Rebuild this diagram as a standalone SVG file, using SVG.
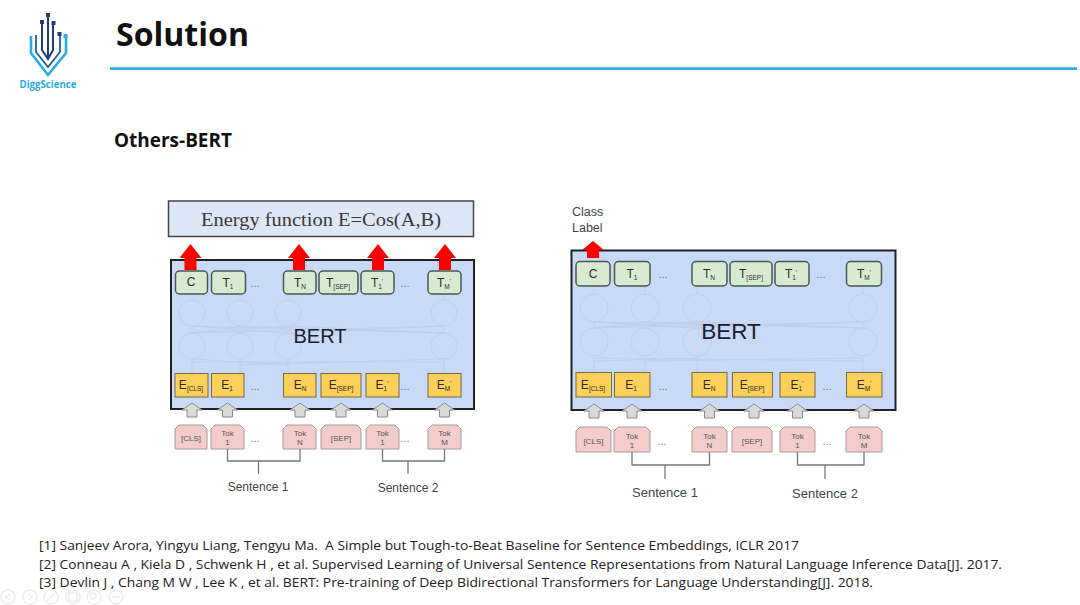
<svg xmlns="http://www.w3.org/2000/svg" width="1080" height="605" viewBox="0 0 1080 605">
<style>
text{font-family:"Liberation Sans",Arial,sans-serif;fill:#2b2b2b}
.h{font-family:"Open Sans","Noto Sans",sans-serif;font-weight:700;fill:#111}
.r{font-family:"Open Sans","Noto Sans",sans-serif;font-size:13px;fill:#222;white-space:pre}
.t{fill:#d9ead3;stroke:#4a5a50;stroke-width:1.5}
.e{fill:#fdd05a;stroke:#6f6a4a;stroke-width:1}
.k{fill:#f4cccc;stroke:#a89a9a;stroke-width:1}
.b{fill:#c9daf8;stroke:#222;stroke-width:2}
.n{fill:none;stroke:#c0cfe9;stroke-width:1}
.w{fill:none;stroke:#777;stroke-width:1.3}
.ga{fill:#d9d9d9;stroke:#8a8a8a;stroke-width:1}
.ra{fill:#f00}
.l{font-size:12px;text-anchor:middle}
.s{font-size:6.500px}
.tk{font-size:8px;text-anchor:middle;fill:#555}
.d{font-size:11px;fill:#777;text-anchor:middle}
.sn{font-size:12px;text-anchor:middle;fill:#444}
.sr{font-size:13px;text-anchor:middle;fill:#444}
.ui{fill:none;stroke:#ececec;stroke-width:1.4}
</style>
<defs>
<path id="ra" class="ra" d="M0 0L11 14H6V26H-6V14H-11Z"/>
<path id="ga" class="ga" d="M0 0L10 7H5V14H-5V7H-10Z"/>
</defs>

<g id="logo">
<path d="M31 36V53L48 75L66 53V36" fill="none" stroke="#29abe2" stroke-width="2.600"/>
<path d="M36 35V52L48 67L60 52V34" fill="none" stroke="#1f5f9a" stroke-width="1.800"/>
<path d="M42 22V50L48 59L53 50V23M48 14V59" fill="none" stroke="#1f3f7a" stroke-width="2"/>
<rect x="46" y="13" width="4" height="4" fill="#1f3f7a"/><rect x="51.500" y="21" width="4" height="4" fill="#1f3f7a"/><rect x="57.500" y="32" width="4" height="4" fill="#1f3f7a"/><rect x="63.500" y="34" width="4" height="4" fill="#29abe2"/><rect x="40" y="20" width="4" height="4" fill="#1f3f7a"/>
<text x="48" y="88" font-size="10.500" font-weight="700" text-anchor="middle" textLength="57" lengthAdjust="spacingAndGlyphs" style="fill:#29abe2;font-family:'Open Sans',sans-serif">DiggScience</text>
</g>

<g id="title">
<text class="h" x="116" y="46" font-size="33" textLength="133" lengthAdjust="spacingAndGlyphs">Solution</text>
<rect x="110" y="67.300" width="967" height="2.600" fill="#29abe2"/>
<text class="h" x="114" y="147" font-size="19" textLength="118" lengthAdjust="spacingAndGlyphs">Others-BERT</text>
</g>

<g id="energy-box"><rect x="168.500" y="201" width="305" height="35.500" fill="#dde7f5" stroke="#444" stroke-width="1.500"/>
<text x="321" y="226" font-size="19" text-anchor="middle" style="font-family:'Liberation Serif',serif;fill:#3a3a3a" textLength="240" lengthAdjust="spacingAndGlyphs">Energy function E=Cos(A,B)</text></g>

<g id="left-bert"><rect class="b" x="171" y="260" width="303" height="149"/></g>

<g id="left-network">
<circle class="n" cx="192" cy="313" r="13"/><circle class="n" cx="240" cy="313" r="13"/><circle class="n" cx="288" cy="313" r="13"/><circle class="n" cx="444" cy="313" r="13"/>
<circle class="n" cx="192" cy="346" r="13"/><circle class="n" cx="240" cy="346" r="13"/><circle class="n" cx="288" cy="346" r="13"/><circle class="n" cx="444" cy="346" r="13"/>
<path class="n" d="M192 294V300M240 294V300M288 294V300M444 294V300M192 326V333M240 326V333M288 326V333M444 326V333M192 359V373M240 359V373M288 359V373M444 359V373M192 326L288 333M192 326L444 333M240 326L192 333M240 326L444 333M288 326L192 333M288 326L444 333M444 326L192 333M444 326L288 333M192 359L288 365M192 362H444M444 359L240 365"/>
</g>
<text id="left-bert-label" x="320" y="343" font-size="20" text-anchor="middle" style="fill:#17202e">BERT</text>

<g id="left-outputs">
<g id="l-t-c"><rect class="t" x="175.500" y="271" width="32" height="23" rx="4"/><text class="l" x="191" y="286">C</text></g>
<g id="l-t-1"><rect class="t" x="211.500" y="271" width="34" height="23" rx="4"/><text class="l" x="228" y="287">T<tspan class="s" dy="2">1</tspan></text></g>
<text class="d" x="255" y="287">...</text>
<g id="l-t-n"><rect class="t" x="283.500" y="271" width="32.500" height="23" rx="4"/><text class="l" x="300" y="287">T<tspan class="s" dy="2">N</tspan></text></g>
<g id="l-t-sep"><rect class="t" x="319" y="271" width="39" height="23" rx="4"/><text class="l" x="338" y="287">T<tspan class="s" dy="2">[SEP]</tspan></text></g>
<g id="l-t-1p"><rect class="t" x="361" y="271" width="33" height="23" rx="4"/><text class="l" x="377" y="287">T<tspan class="s" dy="2">1</tspan><tspan dy="-5" class="s">'</tspan></text></g>
<text class="d" x="405" y="287">...</text>
<g id="l-t-m"><rect class="t" x="428" y="271" width="33" height="23" rx="4"/><text class="l" x="444" y="287">T<tspan class="s" dy="2">M</tspan><tspan dy="-5" class="s">'</tspan></text></g>
</g>

<g id="left-embeddings">
<g id="l-e-cls"><rect class="e" x="175" y="373.500" width="33" height="23.500"/><text class="l" x="191" y="389">E<tspan class="s" dy="2">[CLS]</tspan></text></g>
<g id="l-e-1"><rect class="e" x="211.500" y="373.500" width="32.500" height="23.500"/><text class="l" x="227" y="389">E<tspan class="s" dy="2">1</tspan></text></g>
<text class="d" x="255" y="390">...</text>
<g id="l-e-n"><rect class="e" x="283.500" y="373.500" width="32.500" height="23.500"/><text class="l" x="300" y="389">E<tspan class="s" dy="2">N</tspan></text></g>
<g id="l-e-sep"><rect class="e" x="321" y="373.500" width="40" height="23.500"/><text class="l" x="341" y="389">E<tspan class="s" dy="2">[SEP]</tspan></text></g>
<g id="l-e-1p"><rect class="e" x="366" y="373.500" width="33" height="23.500"/><text class="l" x="382" y="389">E<tspan class="s" dy="2">1</tspan><tspan dy="-5" class="s">'</tspan></text></g>
<text class="d" x="405" y="390">...</text>
<g id="l-e-m"><rect class="e" x="428" y="373.500" width="33" height="23.500"/><text class="l" x="444" y="389">E<tspan class="s" dy="2">M</tspan><tspan dy="-5" class="s">'</tspan></text></g>
</g>

<g id="left-tokens">
<g id="l-k-cls"><path class="k" d="M175 449V429L179 425H203L207 429V449Z"/><text class="tk" x="191" y="441">[CLS]</text></g>
<g id="l-k-1"><path class="k" d="M211 449V429L215 425H240L244 429V449Z"/><text class="tk" x="227.500" y="436">Tok</text><text class="tk" x="227.500" y="445">1</text></g>
<text class="d" x="255" y="442">...</text>
<g id="l-k-n"><path class="k" d="M283 449V429L287 425H312L316 429V449Z"/><text class="tk" x="300" y="436">Tok</text><text class="tk" x="300" y="445">N</text></g>
<g id="l-k-sep"><path class="k" d="M321 449V429L325 425H357L361 429V449Z"/><text class="tk" x="341" y="441">[SEP]</text></g>
<g id="l-k-1p"><path class="k" d="M366 449V429L370 425H395L399 429V449Z"/><text class="tk" x="382.500" y="436">Tok</text><text class="tk" x="382.500" y="445">1</text></g>
<text class="d" x="405" y="442">...</text>
<g id="l-k-m"><path class="k" d="M428 449V429L432 425H457L461 429V449Z"/><text class="tk" x="444.500" y="436">Tok</text><text class="tk" x="444.500" y="445">M</text></g>
</g>
<text class="sn" x="258" y="491">Sentence 1</text><text class="sn" x="408" y="492">Sentence 2</text>

<g id="right-bert"><rect class="b" x="571.500" y="250.500" width="324" height="159.500"/></g>

<g id="right-network">
<circle class="n" cx="594" cy="308" r="14"/><circle class="n" cx="645" cy="308" r="14"/><circle class="n" cx="697" cy="308" r="14"/><circle class="n" cx="863" cy="308" r="14"/>
<circle class="n" cx="594" cy="342" r="14"/><circle class="n" cx="645" cy="342" r="14"/><circle class="n" cx="697" cy="342" r="14"/><circle class="n" cx="863" cy="342" r="14"/>
<path class="n" d="M594 286V294M645 286V294M697 286V294M863 286V294M594 322V328M645 322V328M697 322V328M863 322V328M594 356V372M645 356V372M697 356V372M863 356V372M594 322L697 328M594 322L863 328M645 322L594 328M645 322L863 328M697 322L594 328M697 322L863 328M863 322L594 328M863 322L697 328M594 358L863 361M697 358L594 361M863 358L645 361"/>
</g>
<text id="right-bert-label" x="731" y="339" font-size="22.500" text-anchor="middle" style="fill:#17202e">BERT</text>

<g id="right-outputs">
<g id="r-t-c"><rect class="t" x="576" y="261.500" width="34" height="24.500" rx="4"/><text class="l" x="593" y="278">C</text></g>
<g id="r-t-1"><rect class="t" x="614.500" y="261.500" width="35.500" height="24.500" rx="4"/><text class="l" x="632" y="278">T<tspan class="s" dy="2">1</tspan></text></g>
<text class="d" x="663" y="278">...</text>
<g id="r-t-n"><rect class="t" x="692" y="261.500" width="35" height="24.500" rx="4"/><text class="l" x="709" y="278">T<tspan class="s" dy="2">N</tspan></text></g>
<g id="r-t-sep"><rect class="t" x="730" y="261.500" width="42" height="24.500" rx="4"/><text class="l" x="751" y="278">T<tspan class="s" dy="2">[SEP]</tspan></text></g>
<g id="r-t-1p"><rect class="t" x="775" y="261.500" width="34" height="24.500" rx="4"/><text class="l" x="791" y="278">T<tspan class="s" dy="2">1</tspan><tspan dy="-5" class="s">'</tspan></text></g>
<text class="d" x="821" y="278">...</text>
<g id="r-t-m"><rect class="t" x="846.500" y="261.500" width="35" height="24.500" rx="4"/><text class="l" x="864" y="278">T<tspan class="s" dy="2">M</tspan><tspan dy="-5" class="s">'</tspan></text></g>
</g>

<g id="right-embeddings">
<g id="r-e-cls"><rect class="e" x="576" y="372.500" width="35.500" height="24.500"/><text class="l" x="593" y="389">E<tspan class="s" dy="2">[CLS]</tspan></text></g>
<g id="r-e-1"><rect class="e" x="614.500" y="372.500" width="35.500" height="24.500"/><text class="l" x="631" y="389">E<tspan class="s" dy="2">1</tspan></text></g>
<text class="d" x="663" y="390">...</text>
<g id="r-e-n"><rect class="e" x="692" y="372.500" width="35" height="24.500"/><text class="l" x="709" y="389">E<tspan class="s" dy="2">N</tspan></text></g>
<g id="r-e-sep"><rect class="e" x="732.500" y="372.500" width="40" height="24.500"/><text class="l" x="752" y="389">E<tspan class="s" dy="2">[SEP]</tspan></text></g>
<g id="r-e-1p"><rect class="e" x="780" y="372.500" width="35" height="24.500"/><text class="l" x="797" y="389">E<tspan class="s" dy="2">1</tspan><tspan dy="-5" class="s">'</tspan></text></g>
<text class="d" x="827" y="390">...</text>
<g id="r-e-m"><rect class="e" x="846.500" y="372.500" width="35.500" height="24.500"/><text class="l" x="864" y="389">E<tspan class="s" dy="2">M</tspan><tspan dy="-5" class="s">'</tspan></text></g>
</g>

<g id="right-tokens">
<g id="r-k-cls"><path class="k" d="M576 452V431L580 427H607L611 431V452Z"/><text class="tk" x="593.500" y="444">[CLS]</text></g>
<g id="r-k-1"><path class="k" d="M614 452V431L618 427H646L650 431V452Z"/><text class="tk" x="632" y="439">Tok</text><text class="tk" x="632" y="448">1</text></g>
<text class="d" x="662" y="445">...</text>
<g id="r-k-n"><path class="k" d="M692 452V431L696 427H723L727 431V452Z"/><text class="tk" x="709.500" y="439">Tok</text><text class="tk" x="709.500" y="448">N</text></g>
<g id="r-k-sep"><path class="k" d="M732 452V431L736 427H768L772 431V452Z"/><text class="tk" x="752" y="444">[SEP]</text></g>
<g id="r-k-1p"><path class="k" d="M780 452V431L784 427H811L815 431V452Z"/><text class="tk" x="797.500" y="439">Tok</text><text class="tk" x="797.500" y="448">1</text></g>
<text class="d" x="827" y="445">...</text>
<g id="r-k-m"><path class="k" d="M846 452V431L850 427H878L882 431V452Z"/><text class="tk" x="864" y="439">Tok</text><text class="tk" x="864" y="448">M</text></g>
</g>
<text class="sr" x="665" y="497">Sentence 1</text><text class="sr" x="825" y="498">Sentence 2</text>
<text x="572" y="216" font-size="12.500" style="fill:#444">Class</text><text x="572" y="232" font-size="12.500" style="fill:#444">Label</text>

<g id="connectors">
<use href="#ra" x="190.500" y="244"/><use href="#ra" x="299" y="244"/><use href="#ra" x="378" y="244"/><use href="#ra" x="445" y="244"/>
<path class="ra" d="M593 241L604 250H599V258H587V250H582Z"/>
<use href="#ga" x="192" y="403"/><use href="#ga" x="227.500" y="403"/><use href="#ga" x="300" y="403"/><use href="#ga" x="341" y="403"/><use href="#ga" x="382.500" y="403"/><use href="#ga" x="444.500" y="403"/>
<use href="#ga" x="594" y="404"/><use href="#ga" x="632" y="404"/><use href="#ga" x="709.500" y="404"/><use href="#ga" x="754" y="404"/><use href="#ga" x="797.500" y="404"/><use href="#ga" x="864" y="404"/>
<path class="w" d="M227.500 449V461H300V449M258.500 461V474M382.500 449V461H444.500V449M408 461V474"/>
<path class="w" d="M632 452V465H709.500V452M665 465V479M797.500 452V465H864V452M825 465V479"/>
</g>

<g id="references">
<text class="r" x="39" y="550" textLength="760" lengthAdjust="spacingAndGlyphs">[1] Sanjeev Arora, Yingyu Liang, Tengyu Ma.  A Simple but Tough-to-Beat Baseline for Sentence Embeddings, ICLR 2017</text>
<text class="r" x="39" y="569" textLength="963" lengthAdjust="spacingAndGlyphs">[2] Conneau A , Kiela D , Schwenk H , et al. Supervised Learning of Universal Sentence Representations from Natural Language Inference Data[J]. 2017.</text>
<text class="r" x="39" y="587" textLength="834" lengthAdjust="spacingAndGlyphs">[3] Devlin J , Chang M W , Lee K , et al. BERT: Pre-training of Deep Bidirectional Transformers for Language Understanding[J]. 2018.</text>
</g>

<g id="slide-controls">
<circle class="ui" cx="8" cy="597" r="7"/><path class="ui" d="M10 594L6 597L10 600"/>
<circle class="ui" cx="30" cy="597" r="7"/><path class="ui" d="M28 594L32 597L28 600"/>
<circle class="ui" cx="51" cy="597" r="7"/><path class="ui" d="M47 601L55 593"/>
<circle class="ui" cx="73" cy="597" r="7"/><rect class="ui" x="69" y="593" width="8" height="8"/>
<circle class="ui" cx="94" cy="597" r="7"/><circle class="ui" cx="93" cy="596" r="3"/>
<circle class="ui" cx="116" cy="597" r="7"/><path class="ui" d="M112 597H120"/>
</g>
</svg>
